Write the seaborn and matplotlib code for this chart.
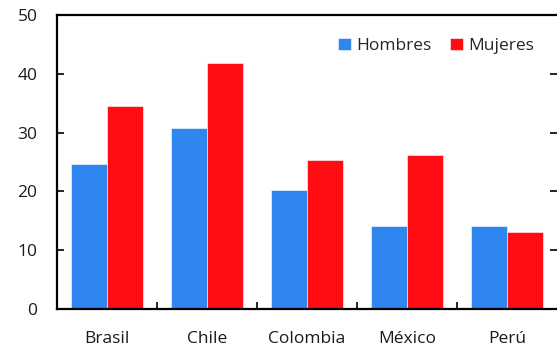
import matplotlib
matplotlib.use("Agg")
import matplotlib.pyplot as plt
import seaborn as sns
import pandas as pd
from matplotlib.ticker import FixedLocator

paises = ["Brasil", "Chile", "Colombia", "México", "Perú"]
hombres = [24.6, 30.8, 20.2, 14.1, 14.1]
mujeres = [34.5, 41.8, 25.3, 26.2, 13.1]
series = ["Hombres", "Mujeres"]
colores = ["#2E86EE", "#FF0D12"]
yticks = [0, 10, 20, 30, 40, 50]

df = pd.DataFrame({
    "pais": paises * 2,
    "grupo": [series[0]] * len(paises) + [series[1]] * len(paises),
    "valor": hombres + mujeres,
})

sns.set_theme(style="white")
plt.rcParams["font.family"] = ["Open Sans", "DejaVu Sans"]

fig = plt.figure(figsize=(5.57, 3.47), dpi=100)
ax = fig.add_axes([57 / 557, 38 / 347, 500 / 557, 294 / 347])

sns.barplot(data=df, x="pais", y="valor", hue="grupo", palette=colores,
            width=0.72, gap=0, saturation=1, ax=ax, errorbar=None,
            edgecolor="white", linewidth=0.4)

ax.set_xlim(-0.5, len(paises) - 0.5)
ax.set_ylim(0, 50)
ax.set_yticks(yticks)
ax.set_xlabel("")
ax.set_ylabel("")

for side in ["left", "bottom", "top"]:
    ax.spines[side].set_visible(True)
    ax.spines[side].set_color("black")
    ax.spines[side].set_linewidth(1.6)
ax.spines["right"].set_visible(False)

fs = 12.5
ax.tick_params(axis="y", which="major", left=True, right=True, labelright=False,
               direction="in", length=5, width=1.2, color="black",
               labelsize=fs, pad=14, labelcolor="#1a1a1a")
ax.tick_params(axis="x", which="major", bottom=True, length=0,
               labelsize=fs, pad=16, labelcolor="#1a1a1a")
ax.xaxis.set_minor_locator(FixedLocator([i + 0.5 for i in range(len(paises) - 1)]))
ax.tick_params(axis="x", which="minor", bottom=True, direction="in",
               length=5, width=1.2, color="black")

ax.legend(loc="center", bbox_to_anchor=(0.758, 0.895), ncol=2, frameon=False,
          fontsize=fs, handlelength=0.75, handleheight=0.75,
          handletextpad=0.3, columnspacing=1.1, borderaxespad=0)

fig.savefig("out.png", dpi=100)
